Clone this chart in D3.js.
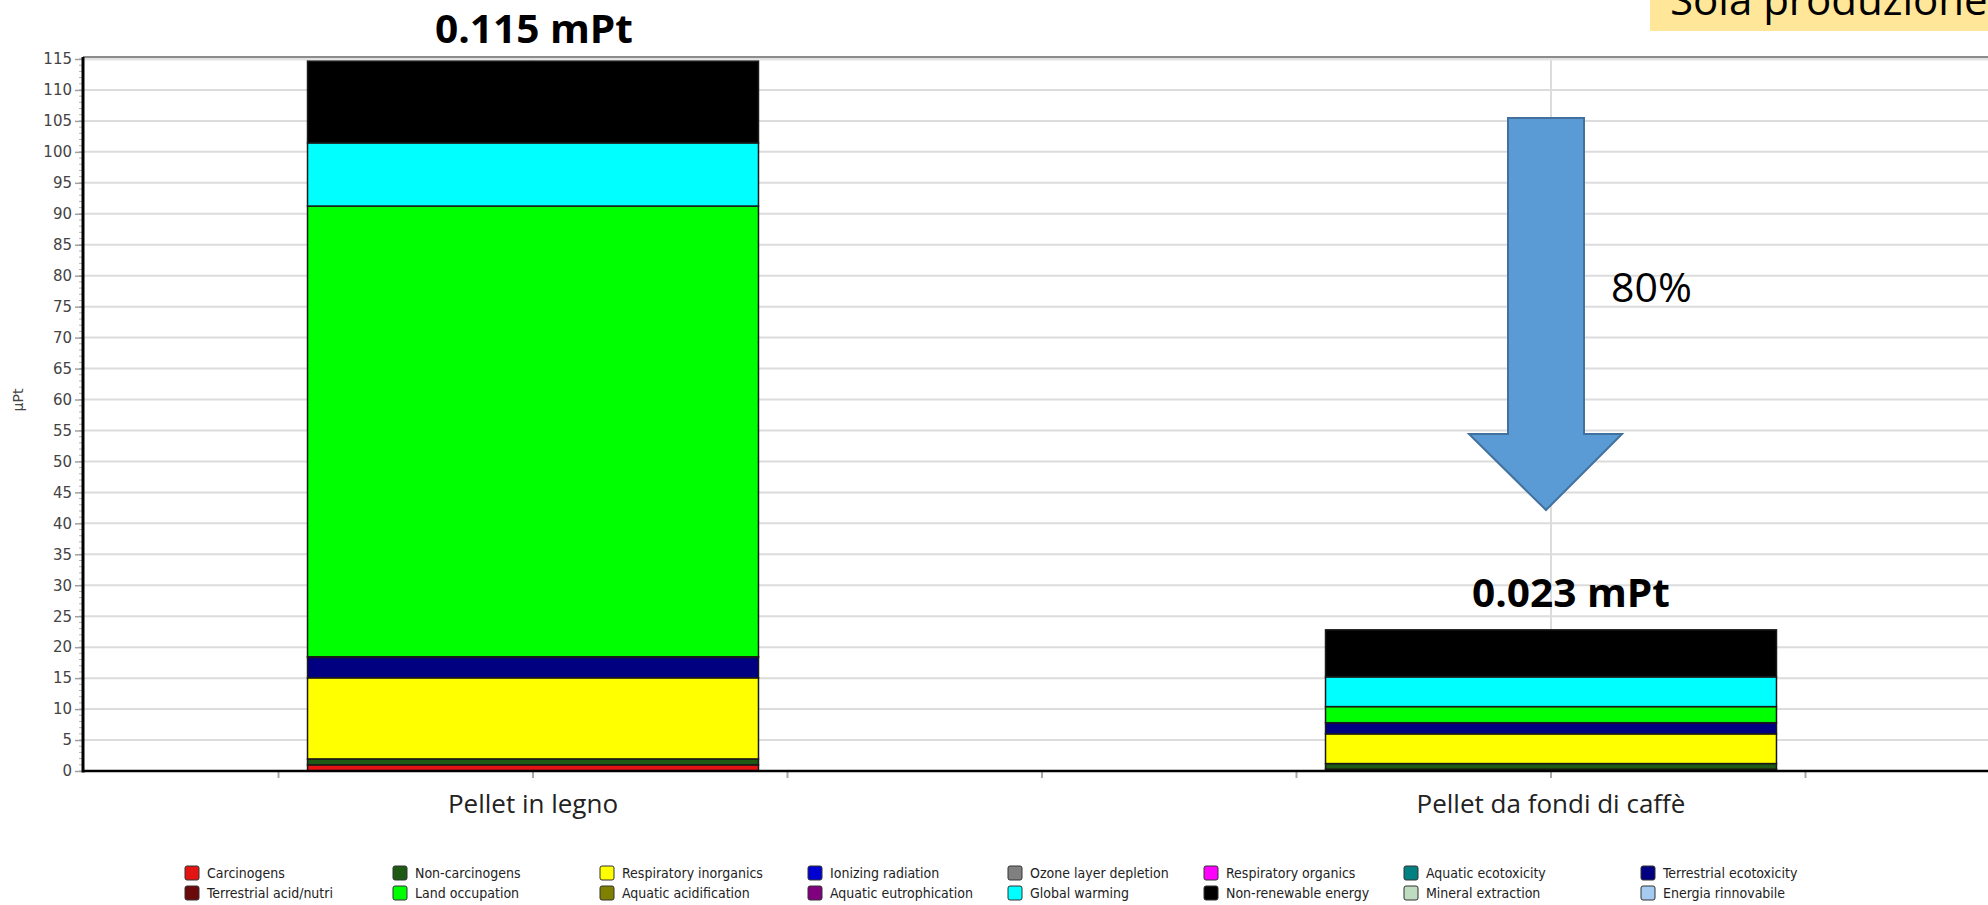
<!DOCTYPE html>
<html>
<head>
<meta charset="utf-8">
<script src="https://cdn.jsdelivr.net/npm/d3@7/dist/d3.min.js"></script>
<style>
  html, body { margin: 0; padding: 0; background: #ffffff; }
  svg { display: block; }
</style>
</head>
<body>
<svg id="chart" width="1988" height="905"></svg>
<script>
// Products compared
const categories = ["Pellet in legno", "Pellet da fondi di caffè"];

// Impact 2002+ damage categories (stacking order, bottom to top)
const impactNames = [
  "Carcinogens", "Non-carcinogens", "Respiratory inorganics", "Ionizing radiation",
  "Ozone layer depletion", "Respiratory organics", "Aquatic ecotoxicity", "Terrestrial ecotoxicity",
  "Terrestrial acid/nutri", "Land occupation", "Aquatic acidification", "Aquatic eutrophication",
  "Global warming", "Non-renewable energy", "Mineral extraction", "Energia rinnovabile"
];
const impactColors = [
  "#e41414", "#1f5a14", "#ffff00", "#0000d0",
  "#808080", "#ff00ff", "#008080", "#000080",
  "#6b0a0a", "#00ff00", "#808000", "#800080",
  "#00ffff", "#000000", "#c0dcc0", "#a6caf0"
];

// Single scores per category, in µPt
const pelletLegno = [1.0, 0.95, 13.1, 0, 0, 0, 0, 3.3, 0.1, 72.8, 0, 0, 10.2, 13.2, 0, 0];
const pelletCaffe = [0.3, 0.9, 4.8, 0, 0, 0, 0, 1.8, 0, 2.6, 0, 0, 4.8, 7.6, 0, 0];

const yTickValues = d3.range(0, 116, 5);
const yAxisTitle = "µPt";
const reductionLabel = "80%";
const scopeLabel = "Sola produzione";

// ---- layout ----
const plot = { left: 83, right: 1988, top: 57, bottom: 771 };

const svg = d3.select("#chart");

const x = d3.scaleBand().domain(categories).range([24, 2060]).padding(0);
const barW = x.bandwidth() * 0.443;
const y = d3.scaleLinear().domain([0, 115]).range([plot.bottom, 59]);

// banner in the top-right corner
svg.append("rect")
  .attr("x", 1650).attr("y", -10).attr("width", 400).attr("height", 41)
  .attr("fill", "#ffe699");
svg.append("text")
  .attr("x", 1670).attr("y", 15)
  .attr("font-family", "'Open Sans', sans-serif").attr("font-size", 42)
  .attr("fill", "#000").text(scopeLabel);

// horizontal grid
svg.append("g").selectAll("line").data(yTickValues.filter(v => v > 0)).join("line")
  .attr("x1", plot.left).attr("x2", plot.right)
  .attr("y1", d => y(d)).attr("y2", d => y(d))
  .attr("stroke", "#dcdcdc").attr("stroke-width", 2);

// vertical grid at category centers
svg.append("g").selectAll("line").data(categories).join("line")
  .attr("x1", d => x(d) + x.bandwidth() / 2).attr("x2", d => x(d) + x.bandwidth() / 2)
  .attr("y1", plot.top).attr("y2", plot.bottom)
  .attr("stroke", "#dcdcdc").attr("stroke-width", 2);

// top frame line
svg.append("line")
  .attr("x1", plot.left).attr("x2", plot.right)
  .attr("y1", plot.top).attr("y2", plot.top)
  .attr("stroke", "#8c8c8c").attr("stroke-width", 2);
svg.append("line")
  .attr("x1", plot.left).attr("x2", plot.right)
  .attr("y1", plot.top + 2.5).attr("y2", plot.top + 2.5)
  .attr("stroke", "#e4e4e4").attr("stroke-width", 2);

// stacked bars
const seriesByCat = { [categories[0]]: pelletLegno, [categories[1]]: pelletCaffe };
const rows = categories.map(c => {
  const o = { category: c };
  impactNames.forEach((n, i) => { o[n] = seriesByCat[c][i]; });
  return o;
});
const stacked = d3.stack().keys(impactNames)(rows);

const barG = svg.append("g");
stacked.forEach((layer, li) => {
  barG.selectAll(null).data(layer.filter(d => d[1] - d[0] > 0)).join("rect")
    .attr("x", d => x(d.data.category) + (x.bandwidth() - barW) / 2)
    .attr("width", barW)
    .attr("y", d => y(d[1]))
    .attr("height", d => y(d[0]) - y(d[1]))
    .attr("fill", impactColors[li])
    .attr("stroke", "#1a1a1a").attr("stroke-width", 1.5);
});

// totals above the bars (mPt)
const totals = categories.map(c => d3.sum(seriesByCat[c]));
const fmt = d3.format(".3f");
const totalPos = [{ dx: 1, y: 43 }, { dx: 20, y: 607 }];
categories.forEach((c, i) => {
  svg.append("text")
    .attr("x", x(c) + x.bandwidth() / 2 + totalPos[i].dx)
    .attr("y", totalPos[i].y)
    .attr("text-anchor", "middle")
    .attr("font-family", "'Open Sans', sans-serif").attr("font-weight", 700)
    .attr("font-size", 40)
    .attr("textLength", 198).attr("lengthAdjust", "spacingAndGlyphs")
    .attr("fill", "#000")
    .text(fmt(totals[i] / 1000) + " mPt");
});

// y axis: minor ticks, major ticks and labels
svg.append("g").selectAll("line").data(d3.range(0, 116, 1)).join("line")
  .attr("x1", plot.left - 4).attr("x2", plot.left)
  .attr("y1", d => y(d)).attr("y2", d => y(d))
  .attr("stroke", "#b0b0b0").attr("stroke-width", 1);

const yAxis = d3.axisLeft(y).tickValues(yTickValues).tickSize(8).tickPadding(3);
const yg = svg.append("g").attr("transform", `translate(${plot.left},0)`).call(yAxis);
yg.select(".domain").remove();
yg.selectAll(".tick line").attr("stroke", "#a0a0a0").attr("stroke-width", 1.5);
yg.selectAll(".tick text")
  .attr("font-family", "'DejaVu Sans', sans-serif")
  .attr("font-size", 15).attr("fill", "#444");

svg.append("line")
  .attr("x1", plot.left).attr("x2", plot.left)
  .attr("y1", plot.top).attr("y2", plot.bottom + 1.5)
  .attr("stroke", "#000").attr("stroke-width", 3);

svg.append("text")
  .attr("transform", `translate(23,400) rotate(-90)`)
  .attr("text-anchor", "middle")
  .attr("font-family", "'DejaVu Sans', sans-serif").attr("font-size", 14)
  .attr("fill", "#444").text(yAxisTitle);

// x axis with quarter-band ticks
const xTicks = [];
categories.forEach(c => {
  const cx = x(c) + x.bandwidth() / 2;
  [-0.25, 0, 0.25, 0.5].forEach(f => xTicks.push(cx + f * x.bandwidth()));
});
svg.append("g").selectAll("line").data(xTicks.filter(v => v > plot.left && v < plot.right)).join("line")
  .attr("x1", d => d).attr("x2", d => d)
  .attr("y1", plot.bottom).attr("y2", plot.bottom + 7)
  .attr("stroke", "#a8a8a8").attr("stroke-width", 2);

svg.append("line")
  .attr("x1", plot.left).attr("x2", plot.right)
  .attr("y1", plot.bottom).attr("y2", plot.bottom)
  .attr("stroke", "#000").attr("stroke-width", 2.5);

svg.append("g").selectAll("text").data(categories).join("text")
  .attr("x", d => x(d) + x.bandwidth() / 2)
  .attr("y", 813)
  .attr("text-anchor", "middle")
  .attr("font-family", "'Open Sans', sans-serif").attr("font-size", 26)
  .attr("fill", "#222").text(d => d);

// down arrow with reduction percentage
const arrow = d3.path();
arrow.moveTo(1508, 118); arrow.lineTo(1584, 118); arrow.lineTo(1584, 434);
arrow.lineTo(1622, 434); arrow.lineTo(1546, 510); arrow.lineTo(1469, 434);
arrow.lineTo(1508, 434); arrow.closePath();
svg.append("path").attr("d", arrow.toString())
  .attr("fill", "#5b9bd5").attr("stroke", "#41719c").attr("stroke-width", 2);
svg.append("text")
  .attr("x", 1611).attr("y", 302)
  .attr("font-family", "'Open Sans', sans-serif").attr("font-size", 41)
  .attr("fill", "#000").text(reductionLabel);

// legend: 8 columns x 2 rows
const legendCols = [185, 393, 600, 808, 1008, 1204, 1404, 1641];
const legendRows = [873, 893];
const lg = svg.append("g");
impactNames.forEach((n, i) => {
  const col = i % 8, row = Math.floor(i / 8);
  const gx = legendCols[col], gy = legendRows[row];
  lg.append("rect")
    .attr("x", gx).attr("y", gy - 7).attr("width", 14).attr("height", 14)
    .attr("rx", 2).attr("fill", impactColors[i])
    .attr("stroke", "#333").attr("stroke-width", 1);
  lg.append("text")
    .attr("x", gx + 22).attr("y", gy + 5)
    .attr("font-family", "'DejaVu Sans Condensed', 'Liberation Sans Narrow', 'Roboto', sans-serif")
    .attr("font-size", 14).attr("fill", "#222")
    .text(n);
});
</script>
</body>
</html>
